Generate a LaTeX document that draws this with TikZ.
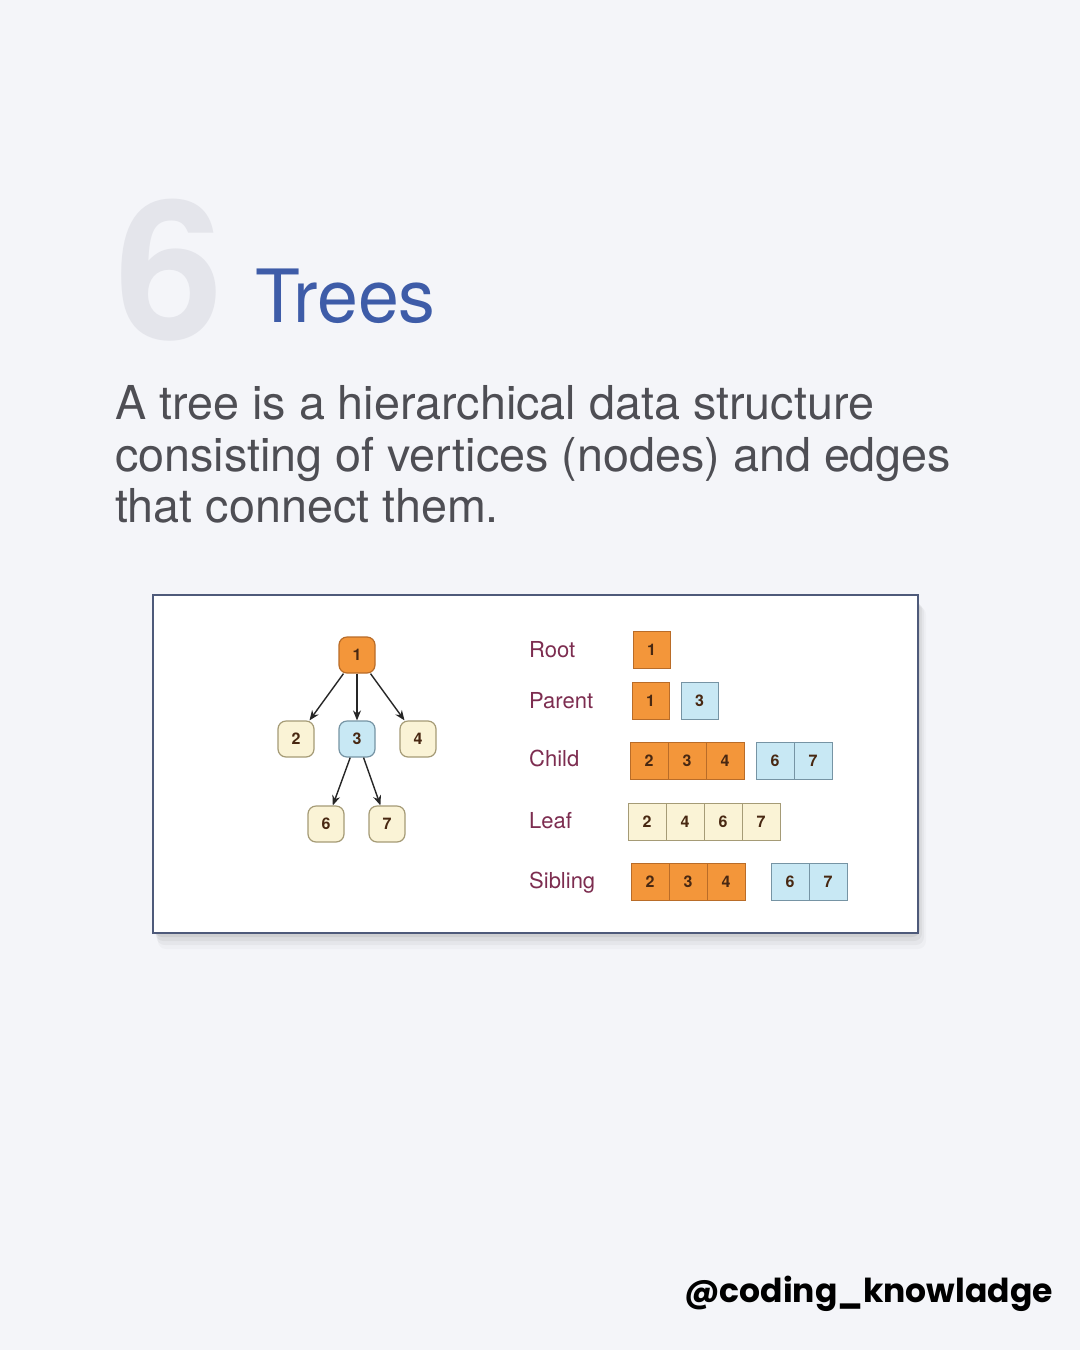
\documentclass[tikz,border=0pt]{standalone}
\usepackage{fontspec}
\setmainfont{TeX Gyre Heros}
\newfontfamily\wmfont{Poppins}
\usetikzlibrary{arrows.meta}

\definecolor{bg}{RGB}{244,245,249}
\definecolor{titleblue}{RGB}{62,92,168}
\definecolor{bodygray}{RGB}{78,78,84}
\definecolor{cardedge}{RGB}{78,90,122}
\definecolor{orangeF}{RGB}{243,150,58}
\definecolor{orangeD}{RGB}{185,108,40}
\definecolor{creamF}{RGB}{250,243,214}
\definecolor{creamD}{RGB}{165,155,118}
\definecolor{blueF}{RGB}{200,232,244}
\definecolor{blueD}{RGB}{118,148,164}
\definecolor{labelc}{RGB}{125,45,80}
\definecolor{numc}{RGB}{72,40,18}
\definecolor{sixfill}{RGB}{228,229,235}

\tikzset{
  tnode/.style={draw, line width=1.2pt, rounded corners=8pt, minimum size=36pt,
    inner sep=0pt, text=numc, font=\fontsize{16}{16}\selectfont\bfseries},
  cell/.style={draw, line width=1pt, minimum width=38pt, minimum height=37pt,
    inner sep=0pt, text=numc, font=\fontsize{16}{16}\selectfont\bfseries},
  orangec/.style={fill=orangeF, draw=orangeD},
  creamc/.style={fill=creamF, draw=creamD},
  bluec/.style={fill=blueF, draw=blueD},
  rowlabel/.style={anchor=base west, inner sep=0pt, text=labelc, font=\fontsize{22}{22}\selectfont},
  edge/.style={-{Stealth[length=10pt,width=8pt]}, line width=1.4pt, black!85},
  bodytext/.style={anchor=base west, inner sep=0pt, text=bodygray, font=\fontsize{46.7}{46.7}\selectfont},
}

\begin{document}
\begin{tikzpicture}[x=1pt,y=-1pt]
  % page
  \fill[bg] (0,0) rectangle (1080,1350);
  \useasboundingbox (0,0) rectangle (1080,1350);

  % big section number
  \node[anchor=base west, inner sep=0pt, text=sixfill, font=\fontsize{194}{194}\selectfont\bfseries] (six) at (115,339) {6};

  % title
  \node[anchor=base west, text=titleblue, inner sep=0pt, font=\fontsize{73.5}{73.5}\selectfont] (title) at (255,322) {Trees};

  % description
  \node[bodytext] (l1) at (115,419) {A tree is a hierarchical data structure};
  \node[bodytext] (l2) at (115,471) {consisting of vertices (nodes) and edges};
  \node[bodytext] (l3) at (115,522) {that connect them.};

  % card shadow
  \foreach \d/\o in {16/0.025,12/0.035,8/0.045,4/0.06} {
    \fill[black, opacity=\o, rounded corners=8pt] (153+\d*0.3,597+\d*0.6) rectangle (918+\d*0.5,933+\d);
  }
  % card
  \draw[cardedge, line width=1.6pt, fill=white] (153,595) rectangle (918,933);

  % tree
  \node[tnode, orangec] (n1) at (357,655) {1};
  \node[tnode, creamc]  (n2) at (296,739) {2};
  \node[tnode, bluec]   (n3) at (357,739) {3};
  \node[tnode, creamc]  (n4) at (418,739) {4};
  \node[tnode, creamc]  (n6) at (326,824) {6};
  \node[tnode, creamc]  (n7) at (387,824) {7};
  \draw[edge] (n1) -- (n2);
  \draw[edge] (n1) -- (n3);
  \draw[edge] (n1) -- (n4);
  \draw[edge] (n3) -- (n6);
  \draw[edge] (n3) -- (n7);

  % row labels
  \node[rowlabel] (lroot) at (529,657) {Root};
  \node[rowlabel] (lpar)  at (529,708) {Parent};
  \node[rowlabel] (lchi)  at (529,766) {Child};
  \node[rowlabel] (llea)  at (529,828) {Leaf};
  \node[rowlabel] (lsib)  at (529,888) {Sibling};

  % Root
  \node[cell, orangec, minimum width=37pt] (r1) at (651.5,649.5) {1};
  % Parent
  \node[cell, orangec, minimum width=37pt] (p1) at (650.5,701) {1};
  \node[cell, bluec, minimum width=37pt]   (p3) at (699.5,701) {3};
  % Child
  \node[cell, orangec] (c2) at (649,760.5) {2};
  \node[cell, orangec] (c3) at (687,760.5) {3};
  \node[cell, orangec] (c4) at (725,760.5) {4};
  \node[cell, bluec]   (c6) at (775,760.5) {6};
  \node[cell, bluec]   (c7) at (813,760.5) {7};
  % Leaf
  \node[cell, creamc] (f2) at (647,821.5) {2};
  \node[cell, creamc] (f4) at (685,821.5) {4};
  \node[cell, creamc] (f6) at (723,821.5) {6};
  \node[cell, creamc] (f7) at (761,821.5) {7};
  % Sibling
  \node[cell, orangec] (s2) at (650,882) {2};
  \node[cell, orangec] (s3) at (688,882) {3};
  \node[cell, orangec] (s4) at (726,882) {4};
  \node[cell, bluec]   (s6) at (790,882) {6};
  \node[cell, bluec]   (s7) at (828,882) {7};

  % handle
  \node[anchor=base east, inner sep=0pt, text=black, font=\wmfont\fontsize{33}{33}\selectfont\bfseries] (handle) at (1053,1302) {@coding\_knowladge};
\end{tikzpicture}
\end{document}
